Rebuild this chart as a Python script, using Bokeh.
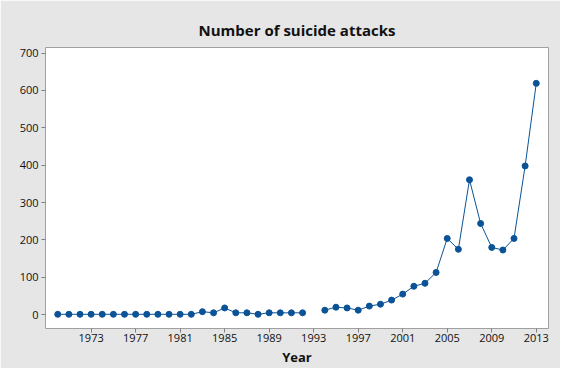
import numpy as np
from bokeh.plotting import figure
from bokeh.models import Range1d, FixedTicker, ColumnDataSource
from bokeh.embed import file_html
from bokeh.resources import INLINE

years = list(range(1970, 1993)) + [1993] + list(range(1994, 2014))
attacks = [1, 1, 1, 1, 1, 1, 1, 1, 1, 1, 1, 1, 1, 8, 5, 18, 5, 5, 1, 5, 5, 5, 5,
           None,
           12, 20, 18, 12, 23, 28, 39, 55, 76, 84, 113, 204, 175, 361, 244, 180, 173, 204, 398, 619]
x_ticks = list(range(1973, 2014, 4))
y_ticks = list(range(0, 701, 100))

vals = np.array([np.nan if v is None else v for v in attacks], dtype=float)
yrs = np.array(years, dtype=float)
mask = ~np.isnan(vals)
line_src = ColumnDataSource(dict(x=yrs, y=vals))
pt_src = ColumnDataSource(dict(x=yrs[mask], y=vals[mask]))

BLUE = "#0B5396"
FONT = "Open Sans"

p = figure(width=560, height=368, output_backend="svg", toolbar_location=None,
           x_range=Range1d(1968.9, 2014.1), y_range=Range1d(-37, 715),
           title="Number of suicide attacks")
p.min_border_left = 45
p.min_border_right = 12
p.min_border_top = 47
p.min_border_bottom = 38
p.border_fill_color = "#E6E6E6"
p.background_fill_color = "white"
p.outline_line_color = "#A0A0A0"
p.outline_line_width = 1

p.title.align = "center"
p.title.text_font = FONT
p.title.text_font_size = "15px"
p.title.text_font_style = "bold"
p.title.text_color = "#111111"
p.title.standoff = 15

p.line("x", "y", source=line_src, color=BLUE, line_width=1)
p.scatter("x", "y", source=pt_src, color=BLUE, size=6)

p.grid.visible = False
for ax in (p.xaxis, p.yaxis):
    ax.axis_line_color = None
    ax.major_tick_line_color = "#808080"
    ax.major_tick_in = 0
    ax.major_tick_out = 4
    ax.minor_tick_line_color = None
    ax.major_label_text_font = FONT
    ax.major_label_text_font_size = "11px"
    ax.major_label_text_color = "#111111"
    ax.major_label_standoff = 3

p.xaxis.major_label_standoff = 1
p.xaxis.ticker = FixedTicker(ticks=x_ticks)
p.yaxis.ticker = FixedTicker(ticks=y_ticks)
p.xaxis.axis_label = "Year"
p.xaxis.axis_label_text_font = FONT
p.xaxis.axis_label_text_font_size = "13px"
p.xaxis.axis_label_text_font_style = "bold"
p.xaxis.axis_label_text_color = "#111111"
p.xaxis.axis_label_standoff = 3
p.xaxis.axis_label_align = "center"

open("out.html", "w").write(file_html(p, INLINE))
